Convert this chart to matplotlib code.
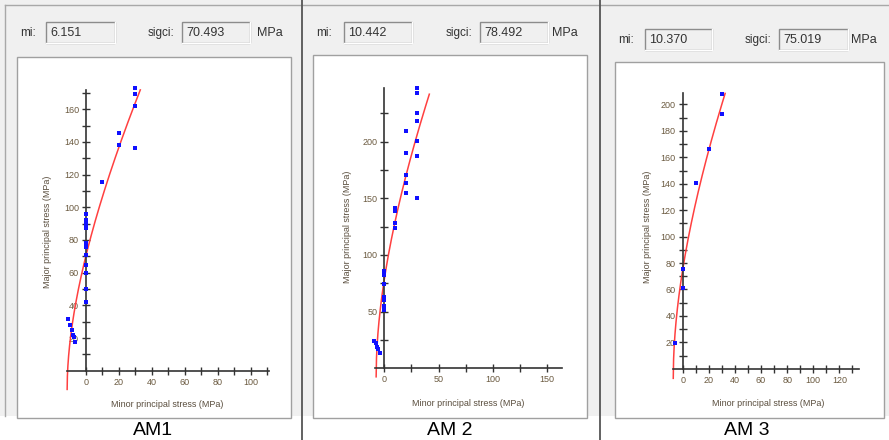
import numpy as np
import matplotlib.pyplot as plt
from matplotlib.patches import Rectangle
from matplotlib.lines import Line2D

plt.rcParams['font.family'] = ['Liberation Sans', 'DejaVu Sans']

# ---------------------------------------------------------------
# Hoek-Brown fits and triaxial test data (sig3, sig1 in MPa)
# ---------------------------------------------------------------
names = ["AM1", "AM 2", "AM 3"]
mi_values = [6.151, 10.442, 10.370]
sigci_values = [70.493, 78.492, 75.019]
curve_end = [33.0, 41.5, 32.5]

am1_sig3 = [30, 30, 30, 30, 20, 20, 10,
            0, 0, 0, 0, 0, 0, 0, 0, 0, 0, 0,
            -11.2, -9.8, -8.7, -8.1, -7.1, -6.5]
am1_sig1 = [172.8, 169.3, 162.0, 136.3, 145.3, 138.1, 115.7,
            95.9, 92.2, 89.8, 87.1, 78.0, 75.9, 70.8, 64.7, 60.0, 49.8, 42.2,
            31.5, 28.0, 24.9, 21.8, 20.7, 17.7]

am2_sig3 = [30, 30, 30, 30, 30, 30, 30,
            20, 20, 20, 20, 20,
            10, 10, 10, 10,
            0, 0, 0, 0, 0, 0, 0,
            -9.2, -7.9, -7.0, -5.5, -4.0]
am2_sig1 = [247.0, 242.7, 225.0, 218.3, 200.9, 187.4, 150.0,
            209.4, 190.3, 170.6, 163.3, 155.0,
            141.7, 138.8, 128.0, 123.6,
            86.2, 82.3, 74.4, 63.2, 60.3, 55.0, 51.5,
            24.4, 22.0, 19.0, 16.8, 13.8]

am3_sig3 = [30, 30, 20, 10, 0, 0, -6.0]
am3_sig1 = [207.9, 192.5, 166.3, 140.3, 75.5, 60.9, 19.7]

sig3_data = [am1_sig3, am2_sig3, am3_sig3]
sig1_data = [am1_sig1, am2_sig1, am3_sig1]

# tick spacing (major labelled, minor unlabelled)
x_major = [np.arange(0, 101, 20), np.arange(0, 151, 50), np.arange(0, 121, 20)]
x_minor = [np.arange(10, 111, 20), np.arange(25, 151, 50), np.arange(10, 131, 20)]
y_major = [np.arange(20, 161, 20), np.arange(50, 201, 50), np.arange(20, 201, 20)]
y_minor = [np.arange(10, 171, 20), np.arange(25, 226, 50), np.arange(10, 201, 20)]

# ---------------------------------------------------------------
# layout in pixels
# ---------------------------------------------------------------
W, H = 889, 440
fig = plt.figure(figsize=(W / 100, H / 100), dpi=100)
fig.patch.set_facecolor("white")


def rect(x0, y0, x1, y1, **kw):
    fig.patches.append(Rectangle((x0 / W, 1 - y1 / H), (x1 - x0) / W, (y1 - y0) / H,
                                 transform=fig.transFigure, **kw))


def vline(x, y0, y1, **kw):
    fig.lines.append(Line2D([x / W, x / W], [1 - y0 / H, 1 - y1 / H],
                            transform=fig.transFigure, **kw))


def hline(y, x0, x1, **kw):
    fig.lines.append(Line2D([x0 / W, x1 / W], [1 - y / H, 1 - y / H],
                            transform=fig.transFigure, **kw))


# dialog background
rect(0, 0, W, 416, facecolor="#f0f0f0", edgecolor="none")
hline(5, 5, W, color="#a8a8a8", lw=1)
vline(5, 5, 416, color="#a8a8a8", lw=1)
vline(302, 0, H, color="#555555", lw=1.3)
vline(600, 0, H, color="#555555", lw=1.3)

# white plot frames
frames = [(17, 57, 291, 418), (313, 55, 587, 418), (615, 62, 884, 418)]
for x0, y0, x1, y1 in frames:
    rect(x0, y0, x1, y1, facecolor="white", edgecolor="#a0a0a0", lw=1)

# header fields: (label x, box x0, box x1, sigci label x, box x0, box x1, MPa x, y)
headers = [(20, 46, 115, 148, 182, 250, 257, 33),
           (316, 344, 412, 446, 480, 548, 552, 33),
           (618, 645, 712, 745, 779, 848, 851, 40)]

# axes geometry: pixel of origin, px per MPa, limits
origin = [(86, 370.7), (384.3, 368.3), (682.7, 368.8)]
scale = [(1.645, 1.634), (1.085, 1.133), (1.306, 1.322)]
xlims = [(-13, 112), (-10, 166), (-8, 136)]
ylims = [(0, 174), (0, 249), (0, 210)]
xspine = [(-11.6, 111), (-8.5, 164), (-7.3, 135)]
yspine = [(0, 172), (0, 247), (0, 208.5)]
ylab_pos = [(48, 232), (347, 227), (648, 227)]
xlab_pos = [(167, 404), (468, 403), (768, 403)]
name_pos = [(153, 430), (450, 430), (747, 430)]

tick_color = "#6b5a40"

for i in range(3):
    lx, b0, b1, sx_, s0, s1, mx, hy = headers[i]
    fig.text(lx / W, 1 - hy / H, "mi:", fontsize=8.5, color="#333333", va="center")
    fig.text(sx_ / W, 1 - hy / H, "sigci:", fontsize=8.5, color="#333333", va="center")
    fig.text(mx / W, 1 - hy / H, "MPa", fontsize=9, color="#333333", va="center")
    for x0, x1, val in [(b0, b1, f"{mi_values[i]:.3f}"), (s0, s1, f"{sigci_values[i]:.3f}")]:
        rect(x0, hy - 11, x1, hy + 10, facecolor="#f0f0f0", edgecolor="#8c8c8c", lw=1)
        hline(hy + 10, x0, x1, color="white", lw=1)
        vline(x1, hy - 11, hy + 10, color="white", lw=1)
        fig.text((x0 + 4) / W, 1 - hy / H, val, fontsize=9, color="#333333", va="center")

    ox, oy = origin[i]
    kx, ky = scale[i]
    xl, yl = xlims[i], ylims[i]
    left = ox + xl[0] * kx
    right = ox + xl[1] * kx
    top = oy - yl[1] * ky
    bottom = oy - yl[0] * ky
    ax = fig.add_axes([left / W, 1 - bottom / H, (right - left) / W, (bottom - top) / H])
    ax.set_zorder(3)
    ax.set_facecolor("none")
    ax.set_xlim(*xl)
    ax.set_ylim(*yl)

    # Hoek-Brown failure envelope (a = 0.5, s = 1)
    mi, sigci = mi_values[i], sigci_values[i]
    sigt = -sigci / mi
    s3 = np.linspace(sigt, curve_end[i], 300)
    s1 = s3 + sigci * np.sqrt(np.clip(mi * s3 / sigci + 1, 0, None))
    ax.plot(s3, s1, color="#ff4040", lw=1.1, zorder=2, clip_on=False)

    ax.plot(sig3_data[i], sig1_data[i], "s", color="#1010ff", ms=3, mew=0,
            zorder=3, clip_on=False)

    for side in ["top", "right"]:
        ax.spines[side].set_visible(False)
    ax.spines["left"].set_position(("data", 0))
    ax.spines["left"].set_bounds(*yspine[i])
    ax.spines["bottom"].set_bounds(*xspine[i])
    for side in ["left", "bottom"]:
        ax.spines[side].set_color("#333333")
        ax.spines[side].set_linewidth(1.2)

    ax.set_xticks(x_major[i])
    ax.set_xticks(x_minor[i], minor=True)
    ax.set_yticks(y_major[i])
    ax.set_yticks(y_minor[i], minor=True)
    ax.tick_params(which="both", direction="inout", length=6, width=1,
                   color="#333333", labelsize=6.5, labelcolor=tick_color, pad=2)

    fig.text(ylab_pos[i][0] / W, 1 - ylab_pos[i][1] / H, "Major principal stress (MPa)",
             rotation=90, fontsize=6.5, color="#5a4e3e", ha="center", va="center")
    fig.text(xlab_pos[i][0] / W, 1 - xlab_pos[i][1] / H, "Minor principal stress (MPa)",
             fontsize=6.5, color="#5a4e3e", ha="center", va="center")
    fig.text(name_pos[i][0] / W, 1 - name_pos[i][1] / H, names[i],
             fontsize=14, color="black", ha="center", va="center")

fig.savefig("out.png", dpi=100)
